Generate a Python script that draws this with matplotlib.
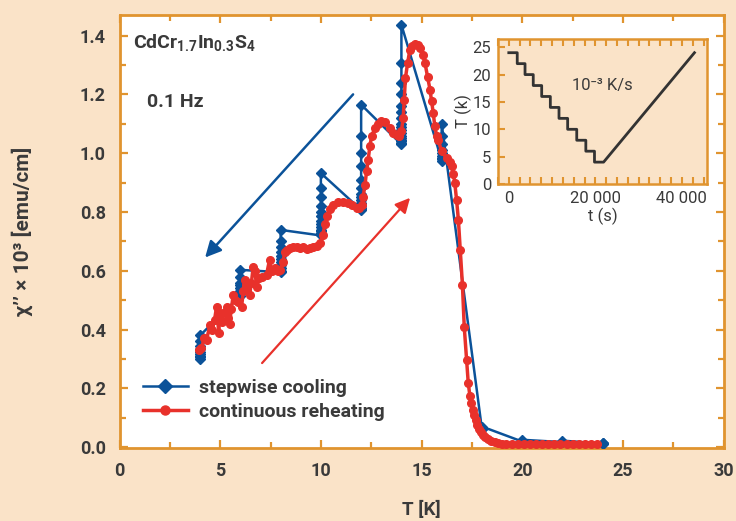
import matplotlib
matplotlib.use("Agg")
import matplotlib.pyplot as plt
from matplotlib.lines import Line2D
from matplotlib.ticker import MultipleLocator, FixedLocator

plt.rcParams['font.family'] = ['Roboto', 'DejaVu Sans']

# stepwise cooling: temperature steps and the relaxing chi'' read at each step
step_T = [24, 22, 20, 18, 16, 14, 12, 10, 8, 6, 4]
step_chi = [
    [0.015, 0.013, 0.012],
    [0.022, 0.019, 0.017],
    [0.025, 0.021, 0.019],
    [0.070, 0.066, 0.063, 0.061],
    [1.10, 1.06, 1.03, 1.01, 1.00, 0.99, 0.985, 0.98, 0.975],
    [1.437, 1.307, 1.24, 1.20, 1.16, 1.14, 1.12, 1.10, 1.09, 1.08, 1.07,
     1.06, 1.05, 1.045, 1.04, 1.035, 1.03],
    [1.165, 1.06, 1.00, 0.955, 0.91, 0.88, 0.86, 0.85, 0.84, 0.83, 0.825,
     0.82, 0.815, 0.81, 0.807],
    [0.932, 0.88, 0.85, 0.82, 0.80, 0.785, 0.77, 0.76, 0.75, 0.74, 0.735,
     0.73, 0.725, 0.72],
    [0.739, 0.70, 0.68, 0.665, 0.65, 0.64, 0.63, 0.62, 0.61, 0.60, 0.595],
    [0.603, 0.58, 0.56, 0.55, 0.54, 0.53, 0.525, 0.52, 0.515],
    [0.38, 0.36, 0.345, 0.335, 0.325, 0.318, 0.31, 0.305, 0.30],
]

# continuous reheating
heat_T = [3.95, 4.07, 4.2, 4.32, 4.49, 4.6, 4.72, 4.82, 4.93, 4.97, 5.07, 5.22,
          5.32, 5.40, 5.47, 5.55, 5.65, 5.75, 5.9, 6.06, 6.15, 6.21, 6.3, 6.46,
          6.55, 6.64, 6.72, 6.81, 6.95, 7.1, 7.30, 7.45, 7.55, 7.7, 7.85, 7.95,
          8.13, 8.2, 8.3, 8.45, 8.6, 8.79, 8.95, 9.13, 9.3, 9.44, 9.6, 9.79,
          9.95, 10.1, 10.2, 10.3, 10.45, 10.6, 10.86, 11.1, 11.36, 11.55, 11.77,
          11.9, 12.02, 12.1, 12.19, 12.27, 12.35, 12.43, 12.52, 12.68, 12.85,
          13.0, 13.2, 13.43, 13.6, 13.76, 13.9, 14.0, 14.09, 14.14, 14.2, 14.31,
          14.42, 14.55, 14.67, 14.8, 14.92, 15.09, 15.17, 15.3, 15.42, 15.5,
          15.58, 15.66, 15.75, 15.83, 16.0, 16.24, 16.4, 16.5, 16.58, 16.65,
          16.74, 16.83, 16.92, 17.03, 17.12, 17.24, 17.32, 17.40, 17.46, 17.54,
          17.6, 17.68, 17.76, 17.85, 17.95, 18.05, 18.15, 18.3, 18.45, 18.63,
          18.8, 19.0, 19.2, 19.5, 19.8, 20.1, 20.4, 20.7, 21.0, 21.3, 21.6,
          21.9, 22.2, 22.5, 22.8, 23.1, 23.4, 23.7]
heat_chi = [0.33, 0.336, 0.37, 0.364, 0.415, 0.40, 0.433, 0.478, 0.388, 0.456,
            0.426, 0.46, 0.477, 0.44, 0.42, 0.47, 0.518, 0.50, 0.495, 0.476,
            0.53, 0.569, 0.55, 0.518, 0.56, 0.614, 0.60, 0.546, 0.575, 0.58,
            0.586, 0.637, 0.60, 0.61, 0.60, 0.603, 0.631, 0.665, 0.672, 0.678,
            0.68, 0.682, 0.676, 0.682, 0.675, 0.678, 0.68, 0.684, 0.695, 0.72,
            0.76, 0.785, 0.81, 0.823, 0.835, 0.834, 0.83, 0.822, 0.815, 0.812,
            0.824, 0.852, 0.892, 0.938, 0.977, 1.023, 1.057, 1.085, 1.10, 1.108,
            1.105, 1.085, 1.07, 1.063, 1.06, 1.075, 1.12, 1.18, 1.256, 1.307,
            1.352, 1.366, 1.372, 1.368, 1.358, 1.335, 1.307, 1.26, 1.216, 1.176,
            1.137, 1.091, 1.06, 1.045, 1.006, 0.983, 0.97, 0.955, 0.93, 0.899,
            0.841, 0.773, 0.672, 0.553, 0.41, 0.296, 0.218, 0.175, 0.15, 0.126,
            0.11, 0.092, 0.075, 0.062, 0.05, 0.04, 0.033, 0.027, 0.022, 0.018,
            0.015, 0.012, 0.011, 0.010, 0.010, 0.010, 0.009, 0.009, 0.009, 0.009,
            0.009, 0.009, 0.009, 0.009, 0.009, 0.009, 0.009, 0.009]

# inset: temperature protocol
proto_t = [0, 1950, 1950, 3750, 3750, 5650, 5650, 7600, 7600, 9600, 9600,
           11600, 11600, 13600, 13600, 15700, 15700, 17800, 17800, 19800,
           19800, 21900, 42900]
proto_T = [24, 24, 22, 22, 20, 20, 18, 18, 16, 16, 14, 14, 12, 12, 10, 10,
           8, 8, 6, 6, 4, 4, 24]

BG = '#fae3c8'
ORANGE = '#e0942f'
BLUE = '#0b5299'
RED = '#e8312b'
TXT = '#3a3a3a'

cool_T = []
cool_chi = []
for T, vals in zip(step_T, step_chi):
    cool_T += [T] * len(vals)
    cool_chi += vals

fig = plt.figure(figsize=(7.36, 5.21), dpi=100, facecolor=BG)
ax = fig.add_axes([0.1624, 0.1401, 0.8207, 0.8311])
ax.set_facecolor('white')

ax.plot(cool_T, cool_chi, color=BLUE, lw=1.8, marker='D', ms=5,
        mec=BLUE, mfc=BLUE, zorder=3)
ax.plot(heat_T, heat_chi, color=RED, lw=2.5, marker='o', ms=5.5,
        mec=RED, mfc=RED, zorder=4)

ax.set_xlim(0, 30)
ax.set_ylim(-0.003, 1.47)
ax.xaxis.set_major_locator(MultipleLocator(5))
ax.xaxis.set_minor_locator(MultipleLocator(2.5))
ax.yaxis.set_major_locator(MultipleLocator(0.2))
ax.yaxis.set_minor_locator(MultipleLocator(0.1))
ax.set_yticklabels([f'{v:.1f}' for v in ax.get_yticks()])
ax.tick_params(which='both', direction='in', top=True, right=True,
               color=ORANGE, width=1.6, labelsize=13, labelcolor=TXT)
ax.tick_params(which='major', length=6, pad=10)
ax.tick_params(which='minor', length=4)
for lab in ax.get_xticklabels() + ax.get_yticklabels():
    lab.set_fontweight('bold')
for sp in ax.spines.values():
    sp.set_color(ORANGE)
    sp.set_linewidth(2)

ax.set_xlabel('T [K]', fontsize=13.5, fontweight='bold', color=TXT)
ax.xaxis.set_label_coords(0.5, -0.122)
ax.set_ylabel('χ’’ × 10³ [emu/cm]', fontsize=15, fontweight='bold', color=TXT)
ax.yaxis.set_label_coords(-0.143, 0.5)

ax.text(0.023, 0.935, r'CdCr$_{\mathregular{1.7}}$In$_{\mathregular{0.3}}$S$_{\mathregular{4}}$',
        transform=ax.transAxes, fontsize=14, fontweight='bold', color=TXT,
        va='center', ha='left')
ax.text(0.045, 0.8, '0.1 Hz', transform=ax.transAxes, fontsize=14,
        fontweight='bold', color=TXT, va='center', ha='left')

ax.annotate('', xy=(4.25, 0.645), xytext=(11.6, 1.20),
            arrowprops=dict(arrowstyle='-|>', color=BLUE, lw=1.8,
                            mutation_scale=24, shrinkA=0, shrinkB=0))
ax.annotate('', xy=(14.43, 0.848), xytext=(7.08, 0.286),
            arrowprops=dict(arrowstyle='-|>', color=RED, lw=1.6,
                            mutation_scale=22, shrinkA=0, shrinkB=0))

handles = [
    Line2D([], [], color=BLUE, lw=1.8, marker='D', ms=7.5, mec=BLUE),
    Line2D([], [], color=RED, lw=2.5, marker='o', ms=6.5, mec=RED),
]
leg = ax.legend(handles, ['stepwise cooling', 'continuous reheating'],
                loc='lower left', bbox_to_anchor=(0.01, 0.022), frameon=False,
                handlelength=2.3, handletextpad=0.6, labelspacing=0.3,
                prop={'size': 14, 'weight': 'bold'})
for t in leg.get_texts():
    t.set_color(TXT)

# inset
ins = fig.add_axes([0.6766, 0.6468, 0.284, 0.2783])
ins.set_facecolor(BG)
ins.plot(proto_t, proto_T, color='#333333', lw=2)
ins.set_xlim(-2500, 45800)
ins.set_ylim(0, 26.5)
ins.xaxis.set_major_locator(FixedLocator([0, 20000, 40000]))
ins.xaxis.set_minor_locator(MultipleLocator(2500))
ins.yaxis.set_major_locator(MultipleLocator(5))
ins.set_xticklabels(['0', '20 000', '40 000'])
ins.tick_params(which='both', direction='in', top=True, color=ORANGE,
                width=1.5, labelsize=12, labelcolor=TXT)
ins.tick_params(which='major', length=5, pad=5)
ins.tick_params(which='minor', length=5)
for sp in ins.spines.values():
    sp.set_color(ORANGE)
    sp.set_linewidth(1.8)
ins.set_xlabel('t (s)', fontsize=12, color=TXT, labelpad=1)
ins.set_ylabel('T (k)', fontsize=12, color=TXT, labelpad=0)
ins.text(21700, 18, '10⁻³ K/s', fontsize=12, color=TXT, ha='center',
         va='center')

fig.savefig('out.png', dpi=100, facecolor=BG)
